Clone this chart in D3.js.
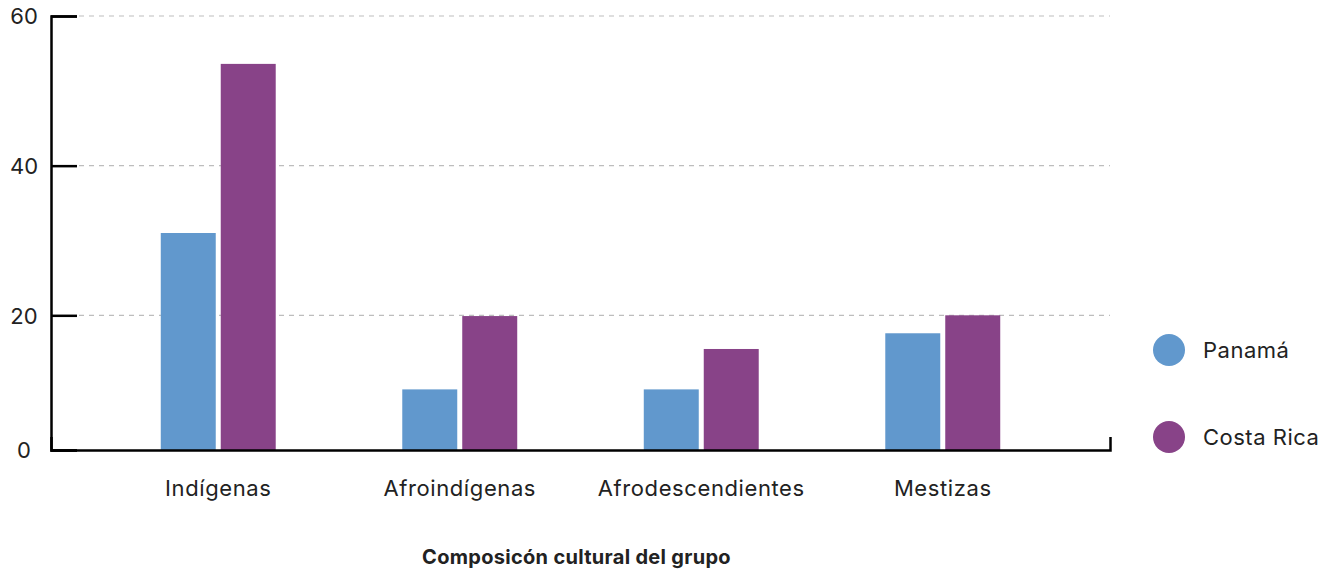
<!DOCTYPE html>
<html>
<head>
<meta charset="utf-8">
<script src="https://cdn.jsdelivr.net/npm/d3@7"></script>
<style>
  html, body { margin: 0; padding: 0; background: #fff; }
  svg { display: block; font-family: Inter, "Noto Sans", sans-serif; }
</style>
</head>
<body>
<svg id="chart" width="1335" height="573"></svg>
<script>
const categories = ["Indígenas", "Afroindígenas", "Afrodescendientes", "Mestizas"];
const seriesNames = ["Panamá", "Costa Rica"];
const panama = [31.0, 10.1, 10.1, 17.6];
const costaRica = [53.6, 19.9, 15.5, 20.0];
const yTickValues = [2, 20, 40, 60];
const yTickLabels = ["0", "20", "40", "60"];
const colors = ["#6198cd", "#884388"];
const xTitle = "Composicón cultural del grupo";

const seriesValues = [panama, costaRica];
const svg = d3.select("#chart");

const mLeft = 51, mRight = 1110, mTop = 16, mBottom = 450;

const x0 = d3.scaleBand().domain(categories).range([mLeft, mRight])
  .paddingInner(0.524).paddingOuter(0.4545);
const x1 = d3.scaleBand().domain(seriesNames).range([0, x0.bandwidth()])
  .paddingInner(0.0833).paddingOuter(0);
const y = d3.scaleLinear().domain([2, 60]).range([mBottom, mTop]);

// gridlines
svg.append("g").selectAll("line")
  .data(yTickValues.slice(1))
  .join("line")
  .attr("x1", mLeft + 28).attr("x2", mRight)
  .attr("y1", d => y(d)).attr("y2", d => y(d))
  .attr("stroke", "#bdbdbd").attr("stroke-width", 1.2)
  .attr("stroke-dasharray", "5,5");

// bars
const groups = svg.append("g").selectAll("g")
  .data(categories)
  .join("g")
  .attr("transform", c => `translate(${x0(c)},0)`);
groups.selectAll("rect")
  .data((c, i) => seriesNames.map((s, j) => ({ s, v: seriesValues[j][i], j })))
  .join("rect")
  .attr("x", d => x1(d.s))
  .attr("width", x1.bandwidth())
  .attr("y", d => y(d.v))
  .attr("height", d => y(2) - y(d.v))
  .attr("fill", d => colors[d.j]);

// y axis
const yAxis = d3.axisLeft(y).tickValues(yTickValues)
  .tickFormat((d, i) => yTickLabels[i]).tickSize(-26).tickSizeOuter(-26).tickPadding(0);
const gy = svg.append("g").attr("transform", `translate(${mLeft},0)`).call(yAxis);
gy.select(".domain").attr("stroke", "#000").attr("stroke-width", 2.5);
gy.selectAll(".tick line").attr("stroke", "#000").attr("stroke-width", 2.5);
gy.selectAll(".tick text")
  .attr("x", -27).attr("dy", "0.35em")
  .attr("text-anchor", "middle")
  .attr("font-size", 22).attr("fill", "#222")
  .style("font-family", "Inter, 'Noto Sans', sans-serif");

// x axis
const xAxis = d3.axisBottom(x0).tickSize(0).tickSizeOuter(-13).tickPadding(0);
const gx = svg.append("g").attr("transform", `translate(0,${mBottom})`).call(xAxis);
gx.select(".domain").attr("stroke", "#000").attr("stroke-width", 2.5);
gx.selectAll(".tick text")
  .attr("y", 46).attr("dy", "0")
  .attr("font-size", 22).attr("fill", "#222")
  .style("letter-spacing", "0.6px")
  .style("font-family", "Inter, 'Noto Sans', sans-serif");

// x title
svg.append("text")
  .attr("x", (mLeft + mRight) / 2 - 4).attr("y", 564)
  .attr("text-anchor", "middle")
  .attr("font-size", 20).attr("font-weight", 700).attr("fill", "#222")
  .style("letter-spacing", "0.3px")
  .text(xTitle);

// legend
const legend = svg.append("g").selectAll("g")
  .data(seriesNames)
  .join("g")
  .attr("transform", (d, i) => `translate(1169,${350 + i * 87})`);
legend.append("circle").attr("r", 16).attr("fill", (d, i) => colors[i]);
legend.append("text").attr("x", 34).attr("dy", "0.35em")
  .attr("font-size", 22).attr("fill", "#222")
  .style("letter-spacing", "0.5px").text(d => d);
</script>
</body>
</html>
